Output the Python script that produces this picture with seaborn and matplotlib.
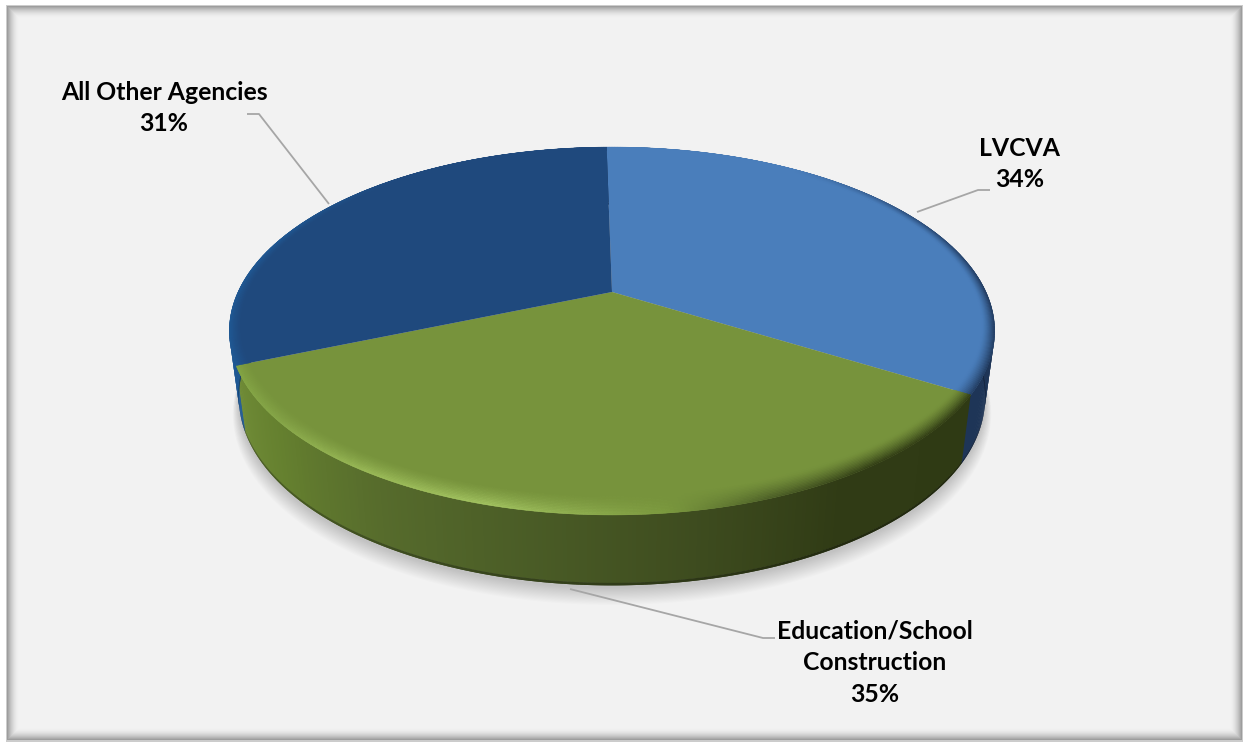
import numpy as np
import matplotlib
matplotlib.use("Agg")
import matplotlib.pyplot as plt
from matplotlib.collections import PolyCollection
from matplotlib.colors import to_rgb
import seaborn as sns

# Share of the total by recipient, clockwise from the top of the pie
categories = ["LVCVA", "Education/School\nConstruction", "All Other Agencies"]
shares = [34, 35, 31]
face_colors = ["#4a7ebb", "#77933c", "#1f497d"]

sns.set_theme(style="white")
plt.rcParams["font.family"] = ["Lato", "DejaVu Sans"]

W, H = 1243, 742
fig = plt.figure(figsize=(W / 100, H / 100), dpi=100)
ax = fig.add_axes([0, 0, 1, 1])
ax.set_xlim(0, W)
ax.set_ylim(H, 0)
ax.axis("off")

# Panel: white margin, light grey fill and a soft inner shadow along the frame
xx, yy = np.meshgrid(np.arange(W) + .5, np.arange(H) + .5)
d = np.minimum.reduce([xx - 7, yy - 6, 1242 - xx, 740 - yy])
shade = np.clip(1 - d / 13, 0, 1) ** 2
panel = 0.949 - 0.36 * shade
panel[d < 0] = 0.80
panel[(xx < 6) | (yy < 5)] = 1.0
ax.imshow(panel, cmap="gray", vmin=0, vmax=1, extent=(0, W, H, 0), aspect="auto", zorder=0)
ax.set_xlim(0, W)
ax.set_ylim(H, 0)

# Perspective projection of the disc onto the page
CX, CY, A, B, P = 612.0, 292.0, 374.0, 175.7, 0.212
BOTTOM_SCALE = 0.975


def project(theta_deg, r=1.0, s=1.0, drop=0.0):
    t = np.radians(theta_deg)
    u, v = r * np.sin(t), r * np.cos(t)
    w = 1 + P * v
    return CX + s * A * u / w, CY + drop - s * B * v / w


def bottom_ring(theta_deg, s=BOTTOM_SCALE, extra=0.0):
    # The lower rim drops further toward the viewer than at the sides
    drop = 65 + 11 * (-np.cos(np.radians(theta_deg))) + extra
    return project(theta_deg, 1.0, s, drop)


def ramp(theta, stops):
    ang = [a for a, _ in stops]
    rgb = np.array([to_rgb(c) for _, c in stops])
    return np.array([np.interp(theta, ang, rgb[:, i]) for i in range(3)]).T


# Slice boundaries follow from the shares
START = -1.0
edges = START + np.concatenate([[0], np.cumsum(shares)]) * 360.0 / sum(shares)

# Soft drop shadow on the panel
full = np.linspace(0, 360, 361)
for k in range(16):
    grow = k / 15
    sx, sy = bottom_ring(full, BOTTOM_SCALE + 0.016 * grow, 3 + 13 * grow)
    ax.fill(sx, sy, color="black", alpha=0.012, lw=0, zorder=1)

# Side wall, shaded around the circumference; each strip overlaps the next to hide seams
wall_stops = [
    (edges[0], "#1e3557"), (edges[1], "#1e3557"),
    (edges[1] + 0.01, "#2f3a14"), (150, "#303b15"), (170, "#3e4c1f"), (190, "#4a5c26"),
    (210, "#566b2c"), (230, "#65802f"), (edges[2], "#708c37"),
    (edges[2] + 0.01, "#1f5a96"), (300, "#1c4f8a"), (edges[3], "#1f497d"),
]
th = np.arange(edges[0], edges[3], 0.5)
for lo, hi, dim in [(0.0, 0.965, 1.0), (0.965, 1.0, 0.72)]:
    polys, cols = [], []
    for a, c in zip(th, ramp(th + 0.25, wall_stops)):
        ang = np.array([a, a + 0.5, min(a + 1.0, edges[3])])
        x0, y0 = project(ang)
        x1, y1 = bottom_ring(ang)
        top = np.c_[x0 + (x1 - x0) * lo, y0 + (y1 - y0) * lo]
        bot = np.c_[x0 + (x1 - x0) * hi, y0 + (y1 - y0) * hi]
        polys.append(np.vstack([top, bot[::-1]]))
        cols.append(c * dim)
    ax.add_collection(PolyCollection(polys, facecolors=cols, edgecolors="none", zorder=2))

# Top face of each slice
for a0, a1, c in zip(edges[:-1], edges[1:], face_colors):
    arc = np.linspace(a0, a1, 200)
    x, y = project(arc)
    ax.fill(np.r_[CX, x], np.r_[CY, y], color=c, lw=0, zorder=3)

# Bevel along the outer rim of the top face
rim_stops = [
    [(edges[0], "#4a7ebb"), (35, "#4a7ebb"), (60, "#2b4d7a"), (90, "#1e3557"), (edges[1], "#223c60")],
    [(edges[1], "#2f3a14"), (145, "#2f3a14"), (160, "#4a5c26"), (173, "#7c9a3f"), (195, "#a5c663"),
     (212, "#9dbd5a"), (230, "#88a84a"), (edges[2], "#84a644")],
    [(edges[2], "#1f5a96"), (290, "#1f5a96"), (320, "#1f497d"), (edges[3], "#1f497d")],
]
levels = np.linspace(0, 1, 15)
for i, (a0, a1) in enumerate(zip(edges[:-1], edges[1:])):
    base = np.array(to_rgb(face_colors[i]))
    arc = np.linspace(a0, a1, int((a1 - a0) * 2) + 1)
    near = np.maximum(0, -np.cos(np.radians(arc))) ** 2
    width = 0.03 + 0.045 * near
    polys, cols = [], []
    for f0, f1 in zip(levels[:-1], levels[1:]):
        x0, y0 = project(arc, 1 - width * f0)
        x1, y1 = project(arc, 1 - width * f1)
        edge = ramp(arc, rim_stops[i])
        mix = (1 - (f0 + f1) / 2) ** 1.4
        for j in range(len(arc) - 1):
            polys.append([(x0[j], y0[j]), (x0[j + 1], y0[j + 1]), (x1[j + 1], y1[j + 1]), (x1[j], y1[j])])
            cols.append(base + (edge[j] - base) * mix)
    ax.add_collection(PolyCollection(polys, facecolors=cols, edgecolors=cols, linewidths=0.3, zorder=4))

# Callouts with leader lines
LEADER = "#a6a6a6"
leaders = [
    ([917, 978, 990], [212, 190, 190]),
    ([570, 763, 775], [589, 638, 638]),
    ([329, 259, 247], [204, 114, 114]),
]
anchors = [(1020, 164), (875, 663), (164, 108)]
for name, share, (lx, ly), (tx, ty) in zip(categories, shares, leaders, anchors):
    ax.plot(lx, ly, color=LEADER, lw=1.3, zorder=5, solid_capstyle="butt")
    ax.text(tx, ty, f"{name}\n{share}%", ha="center", va="center", fontsize=17.8,
            fontweight="bold", color="black", linespacing=1.47, zorder=6)

fig.savefig("out.png", dpi=100)
